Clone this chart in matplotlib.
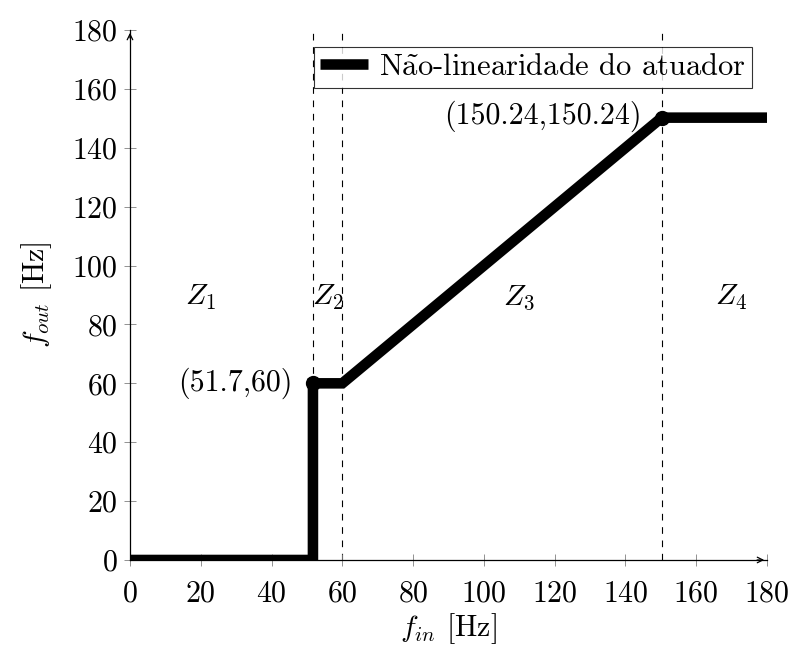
import matplotlib
matplotlib.use("Agg")
import matplotlib.pyplot as plt

plt.rcParams["font.family"] = ["cmr10", "DejaVu Serif"]
plt.rcParams["mathtext.fontset"] = "cm"
plt.rcParams["axes.formatter.use_mathtext"] = True

# Actuator non-linearity breakpoints
f_in = [0, 51.7, 51.7, 60, 150.24, 180]
f_out = [0, 0, 60, 60, 150.24, 150.24]
marked_x = [51.7, 150.24]
marked_y = [60, 150.24]
zone_bounds = [51.7, 60, 150.24]
zone_labels = [r"$Z_1$", r"$Z_2$", r"$Z_3$", r"$Z_4$"]
zone_label_x = [20, 55.85, 110, 170]
zone_label_y = 89
ticks = [0, 20, 40, 60, 80, 100, 120, 140, 160, 180]

FS = 21.5

fig = plt.figure(figsize=(7.94, 6.5), dpi=100)
ax = fig.add_axes([0.1637, 0.1385, 0.8023, 0.8153])

for xb in zone_bounds:
    ax.plot([xb, xb], [0, 180], color="black", lw=0.8, ls=(0, (6, 6)), zorder=1)

ax.plot(f_in, f_out, color="black", lw=7.6, solid_capstyle="butt",
        solid_joinstyle="miter",
        label="N" + r"$\tilde{\rm a}$" + "o-linearidade do atuador", zorder=3)
ax.plot(marked_x, marked_y, "o", color="black", ms=10, zorder=4)

ax.text(marked_x[0] - 5.8, marked_y[0], "(51.7,60)", ha="right", va="center", fontsize=FS)
ax.text(marked_x[1] - 5.8, marked_y[1] + 0.5, "(150.24,150.24)", ha="right", va="center",
        fontsize=FS)

for lx, lab in zip(zone_label_x, zone_labels):
    ax.text(lx, zone_label_y, lab, ha="center", va="center", fontsize=FS)

ax.set_xlim(0, 180)
ax.set_ylim(0, 180)
ax.set_xticks(ticks)
ax.set_yticks(ticks)
ax.tick_params(direction="inout", length=8, width=0.6, color="#808080",
               labelsize=FS)
ax.tick_params(axis="x", pad=10.5)
ax.tick_params(axis="y", pad=5)
ax.spines["top"].set_visible(False)
ax.spines["right"].set_visible(False)
ax.spines["left"].set_linewidth(0.9)
ax.spines["bottom"].set_linewidth(0.9)

# arrow heads on the axis lines
ax.annotate("", xy=(1.0, 0), xycoords="axes fraction", xytext=(0.98, 0),
            arrowprops=dict(arrowstyle="->", color="black", lw=0.9), annotation_clip=False)
ax.annotate("", xy=(0, 1.0), xycoords="axes fraction", xytext=(0, 0.98),
            arrowprops=dict(arrowstyle="->", color="black", lw=0.9), annotation_clip=False)

ax.set_xlabel(r"$f_{in}$ [Hz]", fontsize=FS, labelpad=2.5)
ax.set_ylabel(r"$f_{out}$ [Hz]", fontsize=FS, labelpad=13)

leg = ax.legend(loc="upper right", bbox_to_anchor=(0.9765, 0.968), fontsize=22,
                frameon=True, fancybox=False, edgecolor="black", handlelength=1.57,
                borderpad=0.22, handletextpad=0.33, borderaxespad=0)
leg.get_frame().set_linewidth(0.8)

fig.savefig("out.png", dpi=100)
